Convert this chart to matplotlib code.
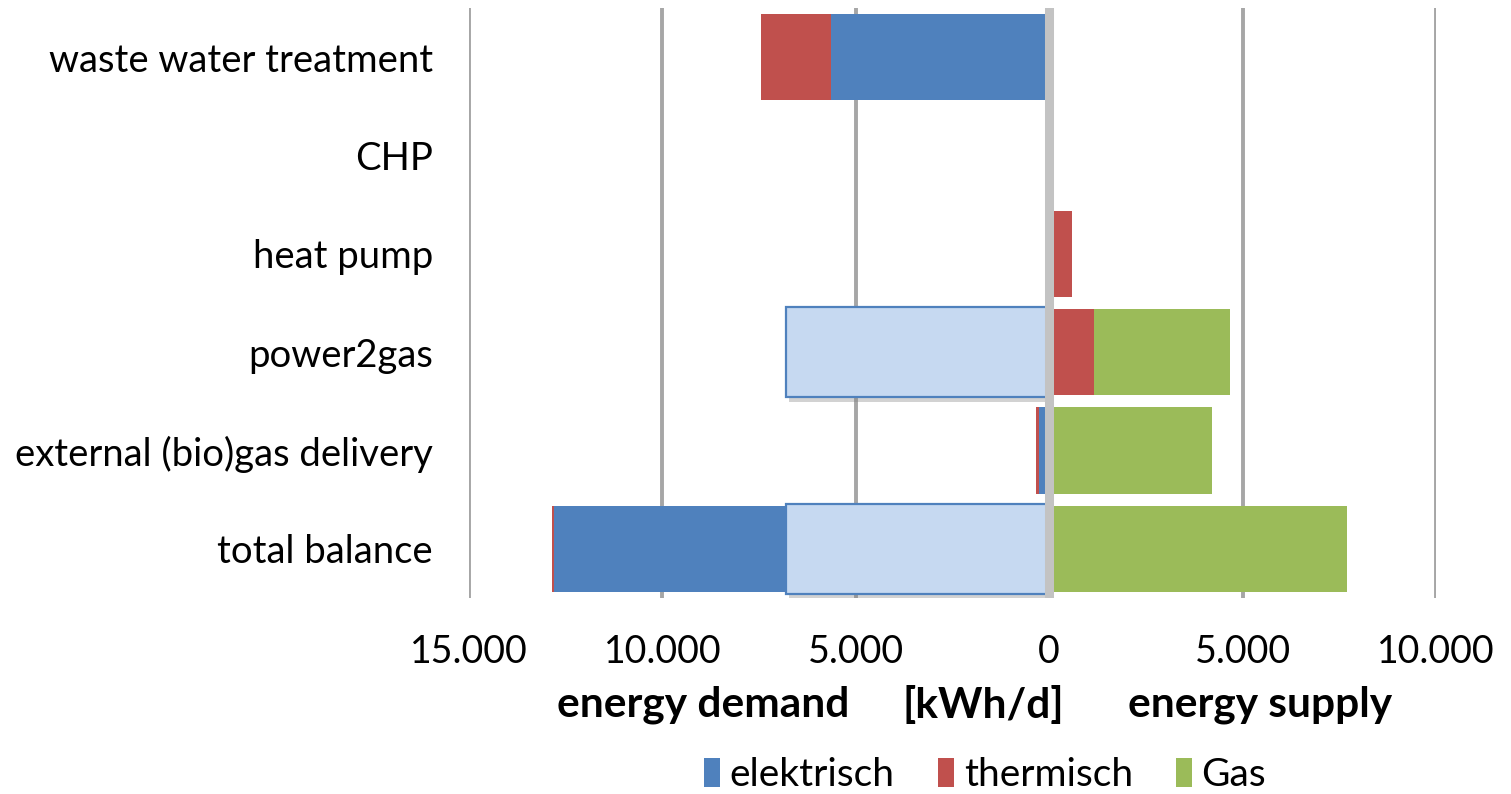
import matplotlib
matplotlib.use("Agg")
import matplotlib.pyplot as plt
import matplotlib.patheffects as pe
import numpy as np

categories = ["waste water treatment", "CHP", "heat pump", "power2gas",
              "external (bio)gas delivery", "total balance"]
# demand (drawn to the left)
demand_el = [5640, 0, 0, 0, 276, 12800]
demand_th = [1810, 0, 0, 0, 70, 60]
# power2gas electricity demand (highlighted box)
p2g_el = [0, 0, 0, 6810, 0, 6810]
# supply (drawn to the right)
supply_th = [0, 0, 600, 1170, 0, 0]
supply_gas = [0, 0, 0, 3500, 4220, 7700]

xticks = [-15000, -10000, -5000, 0, 5000, 10000]
xticklabels = ["15.000", "10.000", "5.000", "0", "5.000", "10.000"]

c_el = "#4F81BD"
c_th = "#C0504D"
c_gas = "#9BBB59"
c_p2g = "#C6D9F1"

plt.rcParams['font.family'] = ['Lato', 'DejaVu Sans']

fig = plt.figure(figsize=(15.11, 7.94), dpi=100)
ax = fig.add_axes([469/1511, 1-598/794, (1436-469)/1511, (598-8)/794])

y = np.arange(len(categories))
h = 0.88
del_el = -np.array(demand_el)
del_th = -np.array(demand_th)
ax.barh(y, del_el, height=h, color=c_el, edgecolor="none", zorder=2, label="elektrisch")
ax.barh(y, del_th, left=del_el, height=h, color=c_th, edgecolor="none", zorder=2, label="thermisch")
sth = np.array(supply_th)
ax.barh(y, sth, height=h, color=c_th, edgecolor="none", zorder=2)
ax.barh(y, supply_gas, left=sth, height=h, color=c_gas, edgecolor="none", zorder=2, label="Gas")

p2g = -np.array(p2g_el)
mask = p2g != 0
bars = ax.barh(y[mask], p2g[mask], height=0.92, color=c_p2g, edgecolor=c_el,
               linewidth=1.6, zorder=3)
for b in bars:
    b.set_path_effects([pe.SimplePatchShadow(offset=(2, -3), shadow_rgbFace="#808080", alpha=0.35),
                        pe.Normal()])

for xv in [-15000, -10000, -5000, 5000, 10000]:
    ax.axvline(xv, color="#A6A6A6", linewidth=2.8, zorder=1)
ax.axvline(0, color="#C3C3C3", linewidth=6.5, zorder=4)

ax.set_xlim(-15000, 10000)
ax.set_ylim(5.5, -0.5)
ax.set_yticks(y)
ax.set_yticklabels(categories, fontsize=27.5)
ax.set_xticks(xticks)
ax.set_xticklabels(xticklabels, fontsize=27)
ax.tick_params(axis="both", length=0)
ax.tick_params(axis="y", pad=26)
ax.tick_params(axis="x", pad=26)
for s in ax.spines.values():
    s.set_visible(False)

ly = 1 - 705/794
fig.text(703/1511, ly, "energy demand", fontsize=30.5, fontweight="bold", ha="center", va="center")
fig.text(983/1511, ly, "[kWh/d]", fontsize=30.5, fontweight="bold", ha="center", va="center")
fig.text(1260/1511, ly, "energy supply", fontsize=30.5, fontweight="bold", ha="center", va="center")

handles, labels = ax.get_legend_handles_labels()
fig.legend(handles, labels, loc="center", bbox_to_anchor=(985/1511, 1-775/794), ncol=3,
           frameon=False, fontsize=28, handlelength=0.42, handleheight=0.8,
           handletextpad=0.25, columnspacing=1.1)

fig.savefig("out.png", dpi=100)
